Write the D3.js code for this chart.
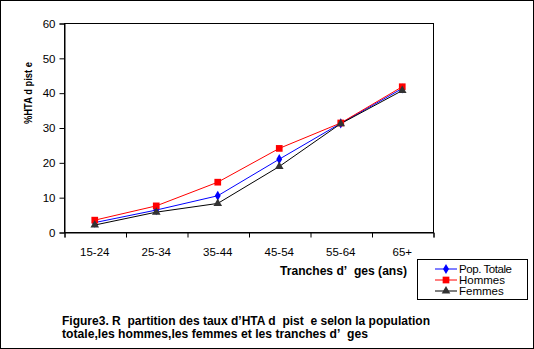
<!DOCTYPE html>
<html><head><meta charset="utf-8">
<script src="https://cdn.jsdelivr.net/npm/d3@7"></script>
<style>body{margin:0;background:#fff}text{font-family:"Liberation Sans",Arial,sans-serif}</style>
</head><body>
<script>
const categories = ["15-24","25-34","35-44","45-54","55-64","65+"];
const popTotale = [2.7, 6.3, 10.4, 20.9, 31.2, 41.2];
const hommes    = [3.4, 7.5, 14.3, 24.0, 31.3, 41.7];
const femmes    = [2.0, 5.7, 8.2, 18.8, 31.1, 40.6];
const yTicks = [0,10,20,30,40,50,60];
const seriesNames = ["Pop. Totale","Hommes","Femmes"];

const W=534,H=349;
const svg=d3.select("body").append("svg").attr("width",W).attr("height",H);
svg.append("rect").attr("x",0.5).attr("y",0.5).attr("width",W-1).attr("height",H-1).attr("fill","#fff").attr("stroke","#000");

const L=64,R=433,T=23,B=232;
const x=d3.scaleBand().domain(categories).range([L,R]);
const y=d3.scaleLinear().domain([0,60]).range([B,T]);
const xi=d3.scaleLinear().domain([0,categories.length]).range([L,R]);

svg.append("rect").attr("x",L+0.5).attr("y",T+0.5).attr("width",R-L).attr("height",B-T).attr("fill","none").attr("stroke","#000");

const ya=svg.append("g").attr("transform",`translate(${L+0.5},0.5)`)
 .call(d3.axisLeft(y).tickValues(yTicks).tickSize(5).tickPadding(4).tickFormat(d3.format("d")));
ya.select(".domain").attr("stroke","#000");
ya.selectAll("text").attr("font-size",11.5).attr("fill","#000").attr("font-family","Liberation Sans, Arial");

const xt=svg.append("g").attr("transform",`translate(0.5,${B+0.5})`)
 .call(d3.axisBottom(xi).tickValues(d3.range(categories.length+1)).tickSize(5).tickFormat(""));
xt.select(".domain").attr("stroke","#000");
const xl=svg.append("g").attr("transform",`translate(0,${B})`)
 .call(d3.axisBottom(x).tickSize(0).tickPadding(16));
xl.select(".domain").remove();
xl.selectAll("text").attr("font-size",11.5).attr("fill","#000").attr("font-family","Liberation Sans, Arial");

const sp="\u00a0";
svg.append("text").attr("x",280).attr("y",275).attr("font-size",12).attr("font-weight","bold")
 .attr("textLength",127).attr("lengthAdjust","spacingAndGlyphs")
 .text("Tranches d\u2019"+sp+sp+"ges (ans)");
svg.append("text").attr("transform","translate(32,93) rotate(-90)").attr("text-anchor","middle").attr("font-size",11).attr("font-weight","bold")
 .attr("textLength",62).attr("lengthAdjust","spacingAndGlyphs").text("%HTA d pist e");

const cx=d=>x(d)+x.bandwidth()/2;
const series=[
 {name:seriesNames[0],vals:popTotale,color:"#0000ff",mk:"diamond",mc:"#0000ff"},
 {name:seriesNames[1],vals:hommes,color:"#ff0000",mk:"square",mc:"#ff0000"},
 {name:seriesNames[2],vals:femmes,color:"#000000",mk:"triangle",mc:"#333333"}
];
const sym={diamond:d3.symbol().type(d3.symbolDiamond).size(30),
 square:d3.symbol().type(d3.symbolSquare).size(45),
 triangle:d3.symbol().type(d3.symbolTriangle).size(32)};
const line=d3.line().x((d,i)=>cx(categories[i])).y(d=>y(d));
series.forEach(s=>{
 svg.append("path").attr("d",line(s.vals)).attr("fill","none").attr("stroke",s.color).attr("stroke-width",1);
});
series.forEach(s=>{
 svg.append("g").selectAll("path").data(s.vals).join("path")
  .attr("transform",(d,i)=>`translate(${cx(categories[i])},${y(d)})`)
  .attr("d",sym[s.mk]).attr("fill",s.mc);
});

const lg=svg.append("g");
lg.append("rect").attr("x",417.5).attr("y",259.5).attr("width",110).attr("height",40).attr("fill","#fff").attr("stroke","#000");
series.forEach((s,i)=>{
 const yy=269+i*11;
 lg.append("line").attr("x1",435).attr("x2",457).attr("y1",yy).attr("y2",yy).attr("stroke",s.color);
 lg.append("path").attr("transform",`translate(446,${yy})`).attr("d",sym[s.mk]).attr("fill",s.mc);
 lg.append("text").attr("x",459).attr("y",yy+4).attr("font-size",11.5).attr("textLength",i==0?53:undefined).text(s.name);
});

const cap=svg.append("g").attr("font-size",12).attr("font-weight","bold");
cap.append("text").attr("x",62).attr("y",325).attr("textLength",368).attr("lengthAdjust","spacingAndGlyphs")
 .text("Figure3. R"+sp+sp+"partition des taux d\u2019HTA d"+sp+sp+"pist"+sp+sp+"e selon la population");
cap.append("text").attr("x",62).attr("y",338).attr("textLength",306).attr("lengthAdjust","spacingAndGlyphs")
 .text("totale,les hommes,les femmes et les tranches d\u2019"+sp+sp+"ges");
</script>
</body></html>
